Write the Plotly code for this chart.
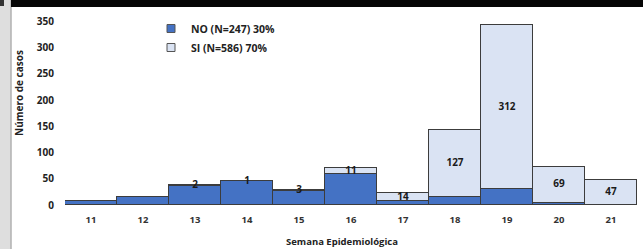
import plotly.graph_objects as go

weeks = [11, 12, 13, 14, 15, 16, 17, 18, 19, 20, 21]
no_vals = [7, 16, 36, 45, 26, 59, 8, 16, 30, 4, 0]
si_vals = [0, 0, 2, 1, 3, 11, 14, 127, 312, 69, 47]
si_labels = ["", "", "2", "1", "3", "11", "14", "127", "312", "69", "47"]
y_ticks = [0, 50, 100, 150, 200, 250, 300, 350]
series_names = ["NO (N=247) 30%", "SI (N=586) 70%"]
series_colors = ["#4472C4", "#DAE3F3"]

W, H = 643, 249
L, R, T, B = 65, 6, 16, 44
pw, ph = W - L - R, H - T - B

def px(x):
    return (x - L) / pw

def py(y):
    return (H - B - y) / ph

FONT = "Open Sans"
line = dict(color="#3c3c3c", width=1)

fig = go.Figure()
fig.add_trace(go.Bar(x=weeks, y=no_vals, name=series_names[0], showlegend=False,
                     marker=dict(color=series_colors[0], line=line), width=1))
fig.add_trace(go.Bar(x=weeks, y=si_vals, name=series_names[1], showlegend=False,
                     marker=dict(color=series_colors[1], line=line), width=1))

# legend entries with small square swatches
for name, col in zip(series_names, series_colors):
    fig.add_trace(go.Scatter(x=[None], y=[None], mode="markers", name=name,
                             marker=dict(symbol="square", size=8, color=col,
                                         line=dict(color="#555555", width=1))))

lab_x = [w for w, s in zip(weeks, si_labels) if s]
lab_y = [n + s / 2 for n, s, t in zip(no_vals, si_vals, si_labels) if t]
lab_t = [t for t in si_labels if t]
fig.add_trace(go.Scatter(x=lab_x, y=lab_y, text=lab_t, mode="text",
                         textfont=dict(family=FONT, size=10, color="#1a1a1a", weight="bold"),
                         showlegend=False, hoverinfo="skip"))

fig.update_layout(
    width=W, height=H, barmode="stack", bargap=0,
    margin=dict(l=L, r=R, t=T, b=B, pad=0),
    paper_bgcolor="white", plot_bgcolor="white",
    showlegend=True,
    legend=dict(x=px(151), y=py(14), xanchor="left", yanchor="top",
                bgcolor="rgba(0,0,0,0)", itemwidth=30, tracegroupgap=0,
                font=dict(family=FONT, size=10.5, color="#222222", weight="bold"),
                traceorder="normal"),
    xaxis=dict(range=[10.5, 21.5], tickmode="array", tickvals=weeks,
               ticktext=[str(w) for w in weeks], showgrid=False, zeroline=False,
               showline=False, ticks="", ticklabelstandoff=7,
               tickfont=dict(family=FONT, size=9.5, color="#333333", weight="bold")),
    yaxis=dict(range=[0, 360], tickmode="array", tickvals=y_ticks,
               showgrid=False, zeroline=False, showline=False, ticks="",
               ticklabelstandoff=10,
               tickfont=dict(family=FONT, size=10, color="#222222", weight="bold")),
    annotations=[
        dict(text="Número de casos", x=px(19), y=py(93), xref="paper", yref="paper",
             xanchor="center", yanchor="middle",
             textangle=-90, showarrow=False,
             font=dict(family=FONT, size=10, color="#222222", weight="bold")),
        dict(text="Semana Epidemiológica", x=px(342), y=py(241), xref="paper", yref="paper",
             xanchor="center", yanchor="middle",
             showarrow=False,
             font=dict(family=FONT, size=9.5, color="#222222", weight="bold")),
    ],
    shapes=[
        dict(type="rect", xref="paper", yref="paper", x0=px(0), x1=px(11), y0=py(H), y1=py(0),
             fillcolor="#dedede", line=dict(width=0), layer="above"),
        dict(type="line", xref="paper", yref="paper", x0=px(11), x1=px(11), y0=py(H), y1=py(0),
             line=dict(color="#b0b0b0", width=1.5), layer="above"),
        dict(type="rect", xref="paper", yref="paper", x0=px(11), x1=px(W), y0=py(7), y1=py(0),
             fillcolor="#050505", line=dict(width=0), layer="above"),
        dict(type="rect", xref="paper", yref="paper", x0=px(0), x1=px(4), y0=py(6), y1=py(0),
             fillcolor="#333333", line=dict(width=0), layer="above"),
    ],
)

fig.write_html("out.html", config={"displayModeBar": False},
               post_script="document.body.style.margin='0';document.body.style.overflow='hidden';")
